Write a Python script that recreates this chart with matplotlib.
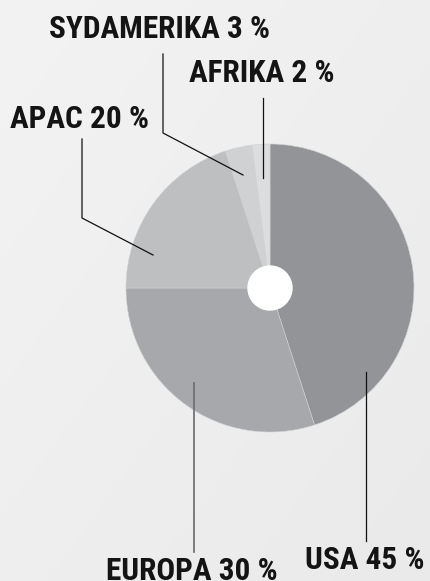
import numpy as np
import matplotlib
matplotlib.use("Agg")
import matplotlib.pyplot as plt

# Market shares per region
regions = ["USA", "EUROPA", "APAC", "SYDAMERIKA", "AFRIKA"]
shares = [45, 30, 20, 3, 2]
colors = ["#939498", "#a7a8ab", "#bebfc1", "#d0d1d3", "#dcdddf"]

# Layout in pixel units (origin bottom-left)
W, H = 430, 581
center = (270, H - 288)
radius = 144
hole = 22

# label text position (left x, baseline y) and leader path from label to wedge
label_pos = {
    "USA": (305, H - 569),
    "EUROPA": (106, H - 580),
    "APAC": (10, H - 128),
    "SYDAMERIKA": (49, H - 37.5),
    "AFRIKA": (189, H - 82),
}
leaders = {
    "USA": [(366, 541), (366, 372)],
    "EUROPA": [(194, 552), (194, 383)],
    "APAC": [(82, 139), (82, 218), (153, 255)],
    "SYDAMERIKA": [(163, 54), (163, 133), (243, 175)],
    "AFRIKA": [(263, 98), (263, 178)],
}
leader_colors = {"EUROPA": "#6a6a6a"}

fig = plt.figure(figsize=(W / 100, H / 100), dpi=100)
ax = fig.add_axes([0, 0, 1, 1])

# soft grey background gradient
yy, xx = np.mgrid[0:1:200j, 0:1:200j]
grad = 0.5 * (xx + yy)
bg = matplotlib.colors.LinearSegmentedColormap.from_list("bg", ["#f3f3f3", "#eaeaeb"])
ax.imshow(grad, extent=(0, W, 0, H), cmap=bg, aspect="auto", zorder=0)

ax.pie(shares, colors=colors, startangle=90, counterclock=False,
       center=center, radius=radius, frame=True,
       wedgeprops=dict(linewidth=0.4, edgecolor="#cfd0d2"))
ax.add_patch(plt.Circle(center, hole, color="white", zorder=5))
ax.set_xlim(0, W)
ax.set_ylim(0, H)
ax.set_aspect("equal")
ax.axis("off")

for name, val in zip(regions, shares):
    pts = leaders[name]
    xs = [p[0] for p in pts]
    ys = [H - p[1] for p in pts]
    ax.plot(xs, ys, color=leader_colors.get(name, "#111111"),
            lw=1.2 if name == "EUROPA" else 0.9, zorder=6)
    x, y = label_pos[name]
    ax.text(x, y, f"{name} {val} %", fontsize=22.5, fontweight="bold",
            family=["Roboto Condensed", "DejaVu Sans"], color="#141414",
            ha="left", va="baseline", zorder=7)

fig.savefig("out.png", dpi=100)
